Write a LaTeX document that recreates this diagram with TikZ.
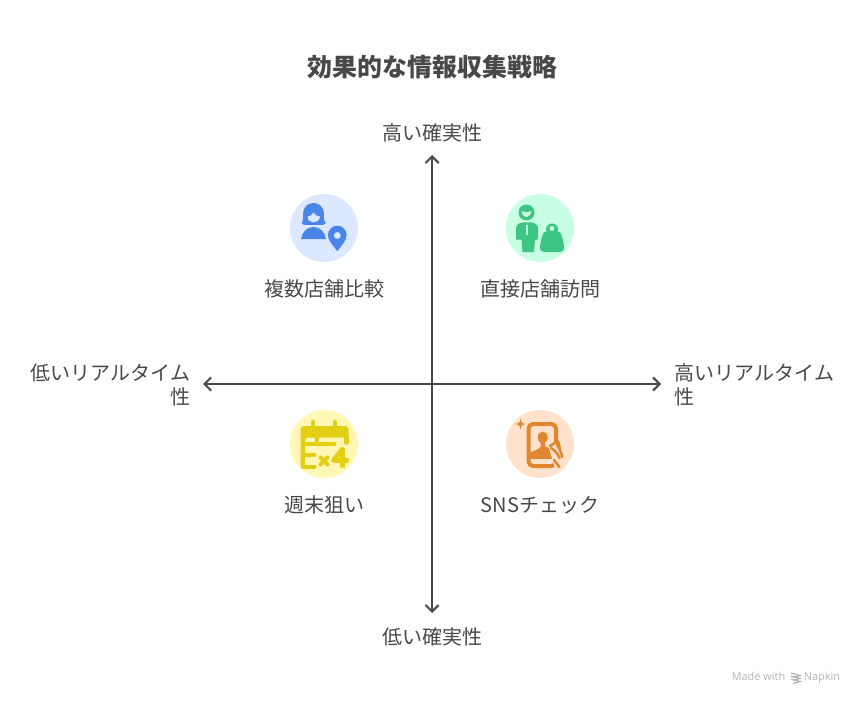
\documentclass[tikz,border=0pt]{standalone}
\usepackage{fontspec}
\setmainfont{Noto Sans CJK JP}
\newfontfamily\markfont{Open Sans}
\usetikzlibrary{arrows.meta}
\definecolor{inkgray}{HTML}{484848}
\definecolor{markgray}{HTML}{B4B4B4}
\definecolor{bluebg}{HTML}{DBE8FF}
\definecolor{blueicon}{HTML}{4A86E8}
\definecolor{greenbg}{HTML}{C8FFE4}
\definecolor{greenicon}{HTML}{3CC583}
\definecolor{yellowbg}{HTML}{FFF7B3}
\definecolor{yellowicon}{HTML}{E2CF14}
\definecolor{orangebg}{HTML}{FFE2CC}
\definecolor{orangeicon}{HTML}{E08530}
\tikzset{
	axisline/.style={draw=inkgray,line width=1.5pt,{Straight Barb[length=5pt,width=10pt]}-{Straight Barb[length=5pt,width=10pt]}},
	tilecircle/.style={circle,minimum size=51pt,inner sep=0,outer sep=0},
	itemlabel/.style={text=inkgray,font=\fontsize{15}{18}\selectfont,inner sep=0,text height=12pt,text depth=3pt},
	sidelabel/.style={text=inkgray,font=\fontsize{15}{18}\selectfont,inner sep=0},
	marklabel/.style={text=markgray,font=\markfont\fontsize{8.2}{10}\selectfont,inner sep=0,text height=6pt,text depth=2pt},
}
\begin{document}
\begin{tikzpicture}[x=0.75pt,y=-0.75pt]
	\useasboundingbox (0,0) rectangle (864,706);
	% Title
	\node[text=inkgray,font=\fontsize{18.7}{22}\selectfont\bfseries,inner sep=0] (title) at (432.5,67.5) {効果的な情報収集戦略};
	% Axes
	\coordinate (certlow) at (432,613);
	\coordinate (certhigh) at (432,155);
	\coordinate (timelow) at (203,384);
	\coordinate (timehigh) at (661,384);
	\draw[axisline] (certlow) -- (certhigh);
	\draw[axisline] (timelow) -- (timehigh);
	% Axis labels
	\node[itemlabel] (certhighlabel) at (432,134.5) {高い確実性};
	\node[itemlabel] (certlowlabel) at (432,638.5) {低い確実性};
	\node[sidelabel,anchor=east,align=right] (timelowlabel) at (190.5,385) {低いリアルタイム\\性};
	\node[sidelabel,anchor=west,align=left] (timehighlabel) at (674.5,385) {高いリアルタイム\\性};
	% Tiles
	\node[tilecircle,fill=bluebg] (compare) at (324,228) {};
	\node[tilecircle,fill=greenbg] (visit) at (540,228) {};
	\node[tilecircle,fill=yellowbg] (weekend) at (324,444) {};
	\node[tilecircle,fill=orangebg] (sns) at (540,444) {};
	\node[itemlabel] (comparelabel) at (324,290) {複数店舗比較};
	\node[itemlabel] (visitlabel) at (540,290) {直接店舗訪問};
	\node[itemlabel] (weekendlabel) at (324,506) {週末狙い};
	\node[itemlabel] (snslabel) at (540,506) {SNSチェック};
	% Woman and pin
	\begin{scope}[shift={(compare.center)}]
		\fill[blueicon] (-22.5,-5) .. controls (-20,-8) and (-21,-10) .. (-21,-14)
			.. controls (-21,-21) and (-16,-25) .. (-10.5,-25)
			.. controls (-5,-25) and (0,-21) .. (0,-14)
			.. controls (0,-10) and (-1,-8) .. (2,-5) -- (-1,-3) -- (-20,-3) -- cycle;
		\fill[bluebg] (-16.5,-11.5) .. controls (-14,-11.5) and (-12,-13) .. (-10.5,-15.5)
			.. controls (-9,-13) and (-7,-11.5) .. (-4,-11.5)
			.. controls (-4.5,-7.5) and (-7.5,-5.5) .. (-10.5,-5.5)
			.. controls (-13.5,-5.5) and (-16,-7.5) .. (-16.5,-11.5) -- cycle;
		\fill[blueicon] (-23,11) .. controls (-22,4) and (-17,-1) .. (-10.5,-1)
			.. controls (-4,-1) and (1,4) .. (2,11) -- cycle;
		\fill[blueicon,draw=bluebg,line width=0.5pt] (13.3,24) .. controls (9,18) and (3.5,13) .. (3.5,7)
			arc[start angle=180,end angle=360,radius=9.8]
			.. controls (23.1,13) and (17.5,18) .. (13.3,24) -- cycle;
		\fill[bluebg] (13.3,7.5) circle[radius=3.4];
	\end{scope}
	% Man and bag
	\begin{scope}[shift={(visit.center)}]
		\fill[greenicon] (-13.5,-15.5) circle[radius=8];
		\fill[greenbg] (-18.5,-17) .. controls (-15,-15.5) and (-12,-15.5) .. (-8.5,-17)
			.. controls (-9,-12.5) and (-12,-11) .. (-13.5,-11)
			.. controls (-15,-11) and (-18,-12.5) .. (-18.5,-17) -- cycle;
		\fill[greenicon] (-18,-5.5) .. controls (-22,-4.5) and (-24,-3) .. (-24,1) -- (-24,11.5) -- (-18.5,11.5) -- (-17.5,24)
			-- (-6,24) -- (-5,11.5) -- (-2,11.5) -- (-2,1)
			.. controls (-2,-3) and (-4,-4.5) .. (-8,-5.5) -- cycle;
		\fill[greenbg] (-14,-3) rectangle (-12,7);
		\fill[greenicon] (12,1.5) circle[radius=6];
		\fill[greenbg] (12,0.5) circle[radius=2.4];
		\fill[greenicon] (4,4) -- (20,4) .. controls (22,8) and (24,14) .. (24,20)
			.. controls (24,22.5) and (22.5,24) .. (20,24) -- (4,24)
			.. controls (1.5,24) and (0,22.5) .. (0,20)
			.. controls (0,14) and (2,8) .. (4,4) -- cycle;
	\end{scope}
	% Calendar times four
	\begin{scope}[shift={(weekend.center)},yellowicon,line cap=round,line width=3pt]
		\fill[rounded corners=2.5pt] (-23.5,24.5) -- (-23.5,-18) -- (24.5,-18) -- (24.5,-6.5) -- (-19,-6.5) -- (-19,24.5) -- cycle;
		\draw[line width=3.4pt] (22.3,-8) -- (22.3,-1.5);
		\draw (-10.7,-22) -- (-10.7,-16);
		\draw (10.7,-22) -- (10.7,-16);
		\draw (-21,-0.5) -- (10.5,-0.5);
		\draw (-7.3,-7) -- (-7.3,-0.5);
		\draw (-21,10.7) -- (-9.5,10.7);
		\draw (-21,22.5) -- (-9.5,22.5);
		\draw (-3.5,13.5) -- (3.5,20.5);
		\draw (3.5,13.5) -- (-3.5,20.5);
		\draw[line cap=butt,line join=round,line width=3.6pt] (18.5,23.5) -- (18.5,5) -- (9.5,16.5) -- (24.5,16.5);
	\end{scope}
	% Phone and hand
	\begin{scope}[shift={(sns.center)}]
		\fill[orangeicon] (-11,13) -- (-11,9) .. controls (-7,7) and (-2,6) .. (0.5,3) -- (0.5,-3) -- (5,-3) -- (5,2)
			.. controls (8,4) and (12,5) .. (15,7) -- (15,13) -- cycle;
		\fill[orangeicon] (2.7,-6.5) ellipse[x radius=5,y radius=6];
		\draw[orangeicon,line width=3pt,rounded corners=3.5pt] (-11.5,-20) rectangle (16,22);
		\draw[orangeicon,line width=2.4pt] (-11.5,13) -- (14,13);
		\fill[orangebg] (8,1) -- (15,-1) -- (25,24) -- (15,24) -- cycle;
		\draw[orangeicon,line width=1.9pt,line cap=round] (10,2) .. controls (13,1) and (15,-2) .. (17,-3.5)
			.. controls (20,-1) and (19,5) .. (20.5,8) .. controls (22,10) and (22,12) .. (22,13);
		\draw[orangeicon,line width=1.9pt,line cap=round] (11,4) -- (15,7) .. controls (18,9) and (18,12) .. (19.5,14);
		\draw[orangeicon,line width=1.9pt,line cap=round] (14,16) -- (19.5,23);
		\fill[orangeicon] (-19.5,-25.5) .. controls (-19,-21.5) and (-18,-20.5) .. (-14,-20)
			.. controls (-18,-19.5) and (-19,-18.5) .. (-19.5,-14.5)
			.. controls (-20,-18.5) and (-21,-19.5) .. (-25,-20)
			.. controls (-21,-20.5) and (-20,-21.5) .. (-19.5,-25.5) -- cycle;
	\end{scope}
	% Watermark
	\node[marklabel,anchor=east] (madewith) at (785.5,678) {Made with};
	\node[marklabel,anchor=west] (napkin) at (803.5,678) {Napkin};
	\foreach \rowy in {674.5,677.5,680.5}
		\draw[markgray,line width=0.9pt] (791,\rowy-1.5) -- (800,\rowy+1) -- (793,\rowy+3);
\end{tikzpicture}
\end{document}
